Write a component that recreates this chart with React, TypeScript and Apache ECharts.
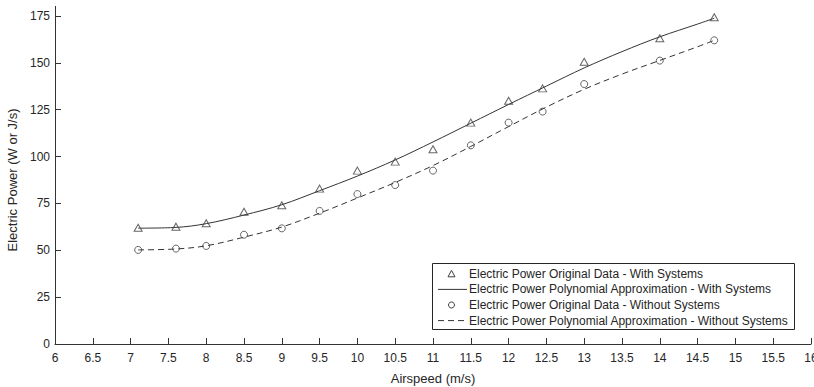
import React, { useEffect, useRef } from "react";
import * as echarts from "echarts";

const dataX = [7.1, 7.6, 8.0, 8.5, 9.0, 9.5, 10.0, 10.5, 11.0, 11.5, 12.0, 12.45, 13.0, 14.0, 14.72];
const withSystems = [62.0, 62.6, 64.4, 70.6, 74.0, 82.9, 92.5, 97.3, 103.9, 118.1, 129.8, 136.4, 150.6, 163.1, 174.3];
const withoutSystems = [50.2, 50.9, 52.3, 58.3, 61.7, 71.0, 80.0, 84.8, 92.5, 106.0, 118.1, 124.0, 138.7, 151.2, 162.0];

const curveX = [7.1, 7.6, 8.0, 8.5, 9.0, 9.5, 10.0, 10.5, 11.0, 11.5, 12.0, 12.5, 13.0, 13.5, 14.0, 14.5, 14.72];
const curveWith = [61.8, 62.2, 64.2, 68.8, 74.3, 81.8, 89.6, 98.2, 107.8, 117.8, 127.8, 137.6, 147.3, 156.0, 163.9, 170.7, 173.8];
const curveWithout = [50.2, 50.7, 52.4, 57.0, 62.4, 69.8, 77.9, 86.2, 95.2, 105.4, 116.0, 126.4, 135.9, 144.0, 151.3, 158.6, 162.0];

const names = [
  "Electric Power Original Data - With Systems",
  "Electric Power Polynomial Approximation - With Systems",
  "Electric Power Original Data - Without Systems",
  "Electric Power Polynomial Approximation - Without Systems",
];

const pairs = (xs: number[], ys: number[]) => xs.map((x, i) => [x, ys[i]]);

const AXIS = "#333333";
const TEXT = "#262626";
const MARK = "#404040";
const LINE = "#333333";
const FONT = "'Liberation Sans', Arial, Helvetica, sans-serif";

export default function App() {
  const ref = useRef<HTMLDivElement>(null);
  useEffect(() => {
    if (!ref.current) return;
    const chart = echarts.init(ref.current, undefined, { renderer: "svg", width: 814, height: 387 });

    // legend layout
    const boxX = 432.5;
    const boxY = 263.5;
    const boxW = 362;
    const boxH = 66;
    const rowY = [273.8, 289.4, 305.0, 320.6];
    const iconX1 = 438;
    const iconX2 = 467;
    const iconC = 451.5;
    const textX = 469;

    const legendGraphic: any[] = [
      {
        type: "rect",
        shape: { x: boxX, y: boxY, width: boxW, height: boxH },
        style: { fill: "#ffffff", stroke: "#262626", lineWidth: 1 },
        z: 100,
        silent: true,
      },
      {
        type: "polygon",
        shape: { points: [[iconC - 3.5, rowY[0] + 3], [iconC + 3.5, rowY[0] + 3], [iconC, rowY[0] - 3.5]] },
        style: { fill: "none", stroke: MARK, lineWidth: 1 },
        z: 101,
        silent: true,
      },
      {
        type: "line",
        shape: { x1: iconX1, y1: rowY[1], x2: iconX2, y2: rowY[1] },
        style: { stroke: LINE, lineWidth: 1 },
        z: 101,
        silent: true,
      },
      {
        type: "circle",
        shape: { cx: iconC, cy: rowY[2], r: 3 },
        style: { fill: "none", stroke: MARK, lineWidth: 1 },
        z: 101,
        silent: true,
      },
      {
        type: "line",
        shape: { x1: iconX1, y1: rowY[3], x2: iconX2, y2: rowY[3] },
        style: { stroke: LINE, lineWidth: 1, lineDash: [6, 4] },
        z: 101,
        silent: true,
      },
      ...names.map((n, i) => ({
        type: "text",
        x: textX,
        y: rowY[i],
        style: {
          text: n,
          fill: TEXT,
          font: `12px ${FONT}`,
          verticalAlign: "middle",
          align: "left",
        },
        z: 101,
        silent: true,
      })),
    ];

    chart.setOption({
      animation: false,
      backgroundColor: "#ffffff",
      textStyle: { fontFamily: FONT },
      grid: { left: 55, right: 3, top: 16, bottom: 43, containLabel: false, outerBoundsMode: "none" },
      xAxis: {
        type: "value",
        min: 6,
        max: 16,
        interval: 0.5,
        name: "Airspeed (m/s)",
        nameLocation: "middle",
        nameGap: 28,
        nameTextStyle: { color: TEXT, fontSize: 13, fontFamily: FONT },
        axisLine: { show: true, lineStyle: { color: AXIS, width: 1 } },
        axisTick: { show: true, inside: true, length: 6, lineStyle: { color: AXIS } },
        axisLabel: { color: TEXT, fontSize: 12, margin: 8, fontFamily: FONT, showMaxLabel: true, hideOverlap: false },
        splitLine: { show: false },
      },
      yAxis: {
        type: "value",
        min: 0,
        max: 175,
        interval: 25,
        name: "Electric Power (W or J/s)",
        nameLocation: "middle",
        nameGap: 30,
        nameTextStyle: { color: TEXT, fontSize: 13, fontFamily: FONT },
        axisLine: { show: true, lineStyle: { color: AXIS, width: 1 } },
        axisTick: { show: true, inside: true, length: 6, lineStyle: { color: AXIS } },
        axisLabel: { color: TEXT, fontSize: 12, margin: 5, fontFamily: FONT },
        splitLine: { show: false },
      },
      graphic: [
        {
          type: "line",
          shape: { x1: 55.5, y1: 6, x2: 55.5, y2: 16 },
          style: { stroke: AXIS, lineWidth: 1 },
          silent: true,
        },
        ...legendGraphic,
      ],
      series: [
        {
          name: names[0],
          type: "scatter",
          symbol: "triangle",
          symbolSize: [8, 7],
          itemStyle: { color: "rgba(255,255,255,0)", borderColor: MARK, borderWidth: 1 },
          data: pairs(dataX, withSystems),
          z: 3,
        },
        {
          name: names[1],
          type: "line",
          smooth: 0.35,
          showSymbol: false,
          symbol: "none",
          lineStyle: { color: LINE, width: 1, type: "solid" },
          itemStyle: { color: LINE },
          data: pairs(curveX, curveWith),
          z: 2,
        },
        {
          name: names[2],
          type: "scatter",
          symbol: "circle",
          symbolSize: 7,
          itemStyle: { color: "rgba(255,255,255,0)", borderColor: MARK, borderWidth: 1 },
          data: pairs(dataX, withoutSystems),
          z: 3,
        },
        {
          name: names[3],
          type: "line",
          smooth: 0.35,
          showSymbol: false,
          symbol: "none",
          lineStyle: { color: LINE, width: 1, type: [6, 4] },
          itemStyle: { color: LINE },
          data: pairs(curveX, curveWithout),
          z: 2,
        },
      ],
    });
    return () => chart.dispose();
  }, []);
  return (
    <div
      ref={ref}
      style={{ position: "fixed", left: 0, top: 0, width: 814, height: 387, background: "#fff" }}
    />
  );
}
